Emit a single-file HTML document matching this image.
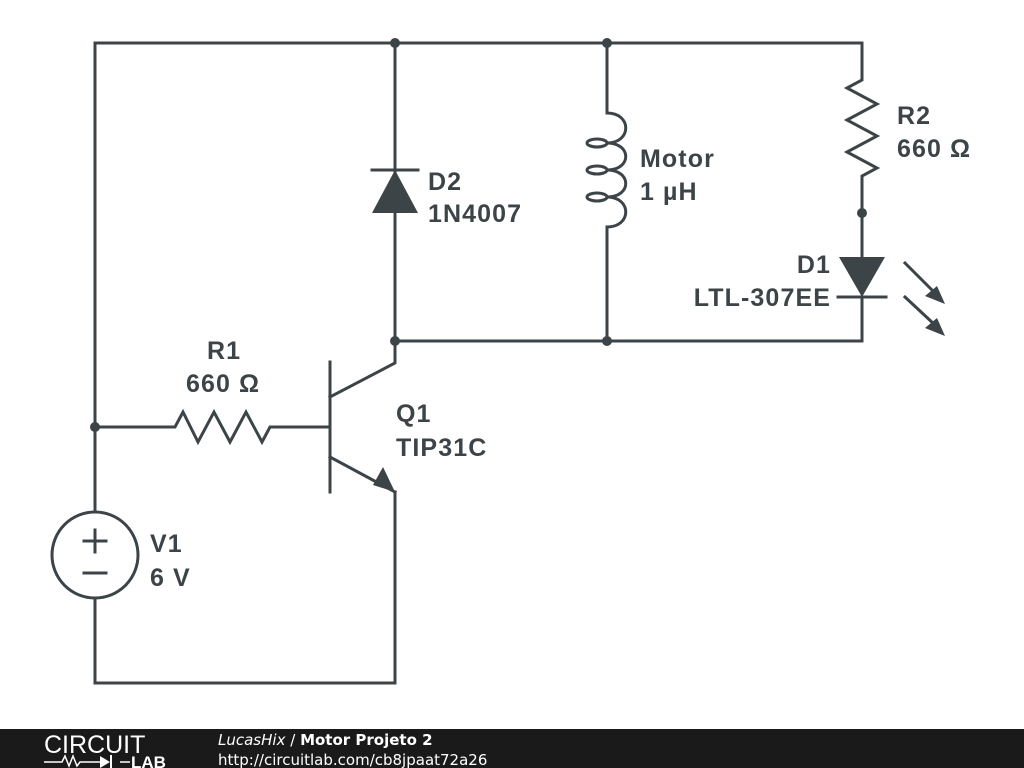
<!DOCTYPE html>
<html><head><meta charset="utf-8"><style>
html,body{margin:0;padding:0;background:#fff;width:1024px;height:768px;overflow:hidden}
svg{display:block}
text{font-family:"Liberation Sans",sans-serif;font-weight:bold;font-size:25px;letter-spacing:1.1px;fill:#3d4448}
</style></head><body>
<svg width="1024" height="768" viewBox="0 0 1024 768">
<g stroke="#3d4448" stroke-width="3" fill="none" stroke-linecap="square">
<path d="M95,43 H862"/>
<path d="M95,43 V512 M95,598 V683 H395 V492"/>
<circle cx="95" cy="555" r="43"/>
<path d="M84,541 H106 M95,530 V552 M84,573 H106"/>
<path d="M95,427 H175 L183,412 L198,442 L214,412 L230,442 L246,412 L262,442 L270,427 H330"/>
<path d="M330,362 V492"/>
<path d="M330,397 L395,363 V341"/>
<path d="M330,457 L395,492"/>
<path d="M395,43 V341 H862"/>
<path d="M372,170 H418"/>
<path d="M607,43 V113 M607,227 V341"/>
<path d="M607,113 C632,113 632,143 607,143 C632,143 632,170 607,170 C632,170 632,197 607,197 C632,197 632,227 607,227"/>
<ellipse cx="597" cy="143" rx="10" ry="4"/>
<ellipse cx="597" cy="170" rx="10" ry="4"/>
<ellipse cx="597" cy="197" rx="10" ry="4"/>
<path d="M862,43 V80 L847,88 L877,104 L847,120 L877,136 L847,152 L877,168 L862,176 V257 M862,297 V341"/>
<path d="M838,297 H886"/>
<path d="M905,263 L935,293 M905,297 L935,325"/>
</g>
<g fill="#3d4448">
<polygon points="395,170 372,213 418,213"/>
<polygon points="839,257 885,257 862,297"/>
<polygon points="395,492 373,485 383,467"/>
<polygon points="945,304 925,296 937,286"/>
<polygon points="945,336 925,328 937,318"/>
<circle cx="395" cy="43" r="5"/><circle cx="607" cy="43" r="5"/>
<circle cx="395" cy="341" r="5"/><circle cx="607" cy="341" r="5"/>
<circle cx="95" cy="427" r="5"/><circle cx="862" cy="213" r="5"/>
</g>
<text x="428" y="190">D2</text><text x="428" y="222">1N4007</text>
<text x="640" y="167">Motor</text><text x="640" y="200">1 µH</text>
<text x="897" y="124">R2</text><text x="897" y="157">660 Ω</text>
<text x="831" y="273" text-anchor="end">D1</text><text x="831" y="306" text-anchor="end">LTL-307EE</text>
<text x="207" y="359">R1</text><text x="186" y="392">660 Ω</text>
<text x="396" y="422">Q1</text><text x="396" y="456">TIP31C</text>
<text x="150" y="552">V1</text><text x="150" y="586">6 V</text>
<rect x="0" y="729" width="1024" height="39" fill="#1a1a1a"/>
<text x="44" y="753" style="font-weight:normal;font-size:25px;letter-spacing:0;fill:#fff">CIRCUIT</text>
<path d="M44,762 H62 L65,756 L69,766 L73,756 L77,766 L80,762 H100 M120,762 H130" stroke="#fff" stroke-width="1.5" fill="none"/>
<polygon points="100,756 100,768 110,762" fill="#fff"/><path d="M111,755 V769" stroke="#fff" stroke-width="2"/>
<text x="131" y="768" style="font-size:17px;letter-spacing:0;fill:#fff">LAB</text>
<text x="218" y="745" style="font-family:'DejaVu Sans',sans-serif;font-size:15px;letter-spacing:0;fill:#fff;font-weight:normal;font-style:italic">LucasHix <tspan font-style="normal">/</tspan> <tspan font-weight="bold" font-style="normal">Motor Projeto 2</tspan></text>
<text x="218" y="765" style="font-family:'DejaVu Sans',sans-serif;font-size:15px;letter-spacing:0;fill:#fff;font-weight:normal">http://circuitlab.com/cb8jpaat72a26</text>
</svg>
</body></html>
